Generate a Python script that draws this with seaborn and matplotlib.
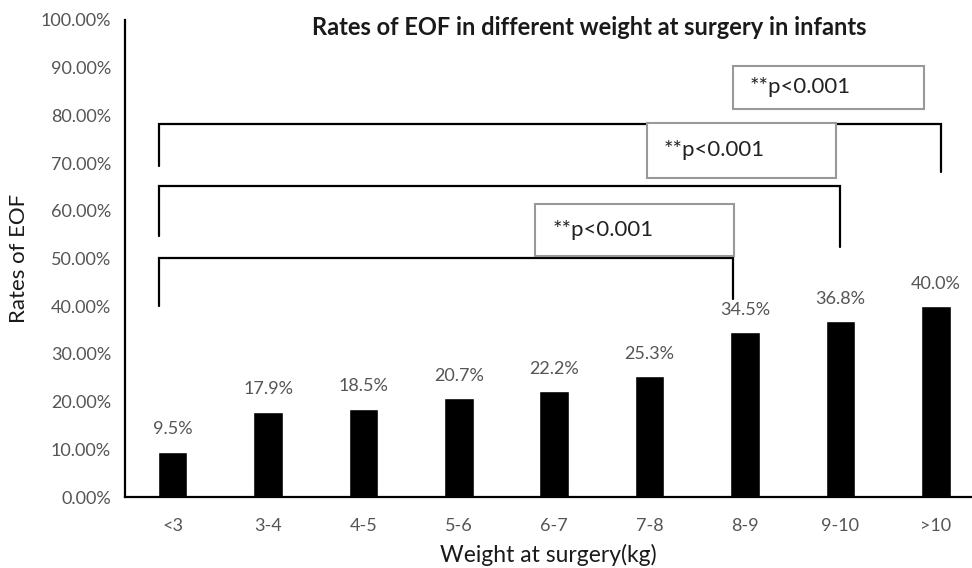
import matplotlib
matplotlib.use("Agg")
import matplotlib.pyplot as plt
import seaborn as sns
from matplotlib.ticker import FuncFormatter

# data
weights = ["<3", "3-4", "4-5", "5-6", "6-7", "7-8", "8-9", "9-10", ">10"]
eof_rates = [9.5, 17.9, 18.5, 20.7, 22.2, 25.3, 34.5, 36.8, 40.0]
p_label = "**p<0.001"

# brackets: (from category, to category, left foot, top, right foot) in %
brackets = [
    (0, 6, 40.0, 50.2, 41.5),
    (0, 7, 54.7, 65.3, 52.4),
    (0, 8, 69.3, 78.2, 68.2),
]
# annotation boxes: (x0, x1, y0, y1) in axis data units
boxes = [
    (3.80, 5.88, 50.5, 61.4),
    (4.97, 6.95, 66.9, 78.4),
    (5.87, 7.88, 81.3, 90.4),
]

sns.set_theme(style="white")
plt.rcParams["font.family"] = ["Lato", "DejaVu Sans"]
gray = "#555555"

fig = plt.figure(figsize=(9.72, 5.68), dpi=100)
ax = fig.add_axes([0.1286, 0.125, 0.8714, 0.8398])

sns.barplot(x=weights, y=eof_rates, color="black", width=0.31,
            saturation=1, ax=ax)

ax.set_ylim(0, 100)
ax.set_xlim(-0.5, 8.38)
ax.set_yticks(range(0, 101, 10))
ax.yaxis.set_major_formatter(FuncFormatter(lambda v, _: f"{v:.2f}%"))
ax.tick_params(axis="y", direction="in", length=8, width=1.5,
               colors="black", labelcolor=gray, labelsize=13, pad=10)
ax.tick_params(axis="x", length=0, labelcolor=gray, labelsize=13, pad=15)
sns.despine(ax=ax)
for side in ("left", "bottom"):
    ax.spines[side].set_color("black")
    ax.spines[side].set_linewidth(1.6)

# value labels
for i, v in enumerate(eof_rates):
    ax.text(i, v + 3.0, f"{v:.1f}%", ha="center", va="bottom",
            fontsize=13, color=gray)

# significance brackets
off_l = -0.14
for (a, b, yl, yt, yr), dx in zip(brackets, [-0.13, -0.005, 0.05]):
    ax.plot([a + off_l, a + off_l, b + dx, b + dx], [yl, yt, yt, yr],
            color="black", lw=1.6, solid_joinstyle="miter", clip_on=False)

for x0, x1, y0, y1 in boxes:
    ax.add_patch(plt.Rectangle((x0, y0), x1 - x0, y1 - y0, facecolor="white",
                               edgecolor="#999999", lw=1.5, zorder=3))
    ax.text(x0 + 0.18, (y0 + y1) / 2, p_label, ha="left", va="center",
            fontsize=16, color="#222222", zorder=4)

ax.set_title("Rates of EOF in different weight at surgery in infants",
             fontsize=17, fontweight="bold", color="#1a1a1a",
             x=0.548, y=0.99, va="top")
ax.set_xlabel("Weight at surgery(kg)", fontsize=16.5, color="#1a1a1a",
              labelpad=7)
ax.set_ylabel("Rates of EOF", fontsize=16, color="#1a1a1a", labelpad=8)

fig.savefig("out.png", dpi=100)
